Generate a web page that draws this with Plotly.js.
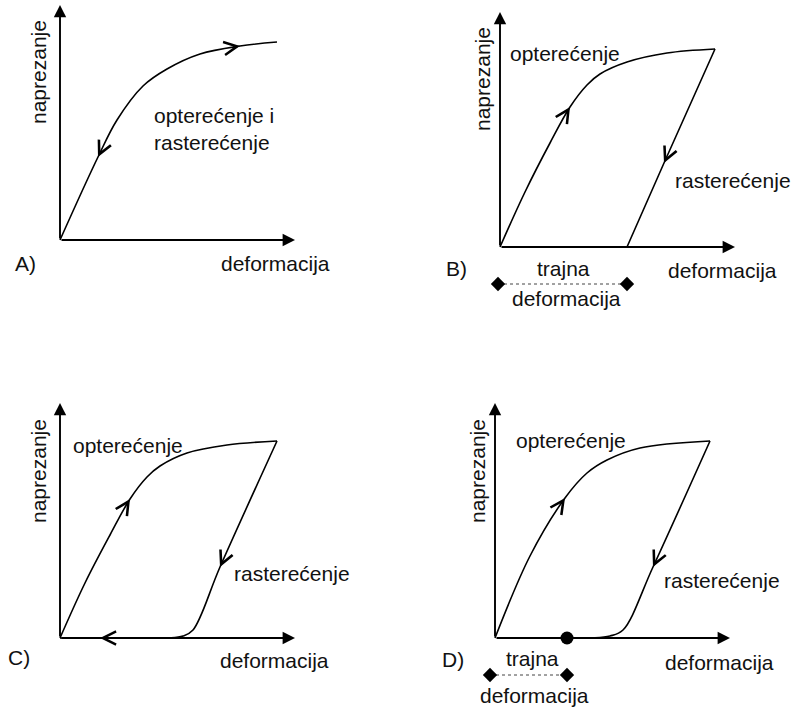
<!DOCTYPE html>
<html><head><meta charset="utf-8">
<script src="https://cdn.plot.ly/plotly-3.0.1.min.js"></script>
<style>html,body{margin:0;padding:0;background:#fff}#chart{width:793px;height:708px}</style>
</head><body><div id="chart"></div>
<script>
// ---- data (deformacija, naprezanje) in arbitrary units ----
// Panel A: loading and unloading along the same curve
const loadA_x = [0, 0.38, 0.57, 0.83, 1.07, 1.4, 1.8, 2.17];
const loadA_y = [0, 0.83, 1.2, 1.54, 1.71, 1.86, 1.94, 1.98];
// Panel B
const loadB_x = [0, 0.25, 0.5, 0.7, 0.87, 1.0, 1.27, 1.67, 2.15];
const loadB_y = [0, 0.55, 1.04, 1.4, 1.62, 1.73, 1.85, 1.94, 1.98];
const unloadB_x = [2.15, 1.64, 1.27];
const unloadB_y = [1.98, 0.84, 0];
const permB_x = [-0.02, 1.27];
// Panel C
const loadC_x = [0, 0.25, 0.5, 0.7, 0.87, 1.0, 1.27, 1.67, 2.17];
const loadC_y = [0, 0.55, 1.03, 1.39, 1.61, 1.72, 1.85, 1.93, 1.97];
const unloadC_x = [2.17, 1.6, 1.33, 1.23, 1.1, 0.93, 0.4, 0];
const unloadC_y = [1.97, 0.71, 0.08, 0.02, 0, 0, 0, 0];
// Panel D
const loadD_x = [0, 0.35, 0.7, 0.92, 1.12, 1.45, 2.15];
const loadD_y = [0, 0.82, 1.4, 1.65, 1.78, 1.9, 1.97];
const unloadD_x = [2.15, 1.58, 1.28, 1.15, 0.98, 0.72];
const unloadD_y = [1.97, 0.71, 0.08, 0.02, 0, 0];
const permD_x = [-0.05, 0.72];

// direction arrows: [curve number, point index, direction]
const panels = [
  {ax:'x',  ay:'y',  curves:[[loadA_x, loadA_y]], arrows:[[0,6,1],[0,1,-1]]},
  {ax:'x2', ay:'y2', curves:[[loadB_x, loadB_y],[unloadB_x, unloadB_y]], arrows:[[0,3,1],[1,1,1]]},
  {ax:'x3', ay:'y3', curves:[[loadC_x, loadC_y],[unloadC_x, unloadC_y]], arrows:[[0,3,1],[1,1,1],[1,6,1]]},
  {ax:'x4', ay:'y4', curves:[[loadD_x, loadD_y],[unloadD_x, unloadD_y]], arrows:[[0,2,1],[1,1,1]]}
];

const FONT = {family:'"Liberation Sans", Arial, sans-serif', size:21, color:'#111'};
const traces = [];
const annotations = [];

panels.forEach(p => {
  p.curves.forEach(c => {
    traces.push({x:c[0], y:c[1], xaxis:p.ax, yaxis:p.ay, mode:'lines',
      line:{color:'#000', width:1.6, shape:'spline', smoothing:1}, hoverinfo:'skip', showlegend:false});
  });
  // axis arrows
  const L = 2.35;
  annotations.push({xref:p.ax, yref:p.ay, axref:p.ax, ayref:p.ay, x:L, y:0, ax:0, ay:0, text:'',
    showarrow:true, arrowhead:2, arrowsize:1.3, arrowwidth:1.9, arrowcolor:'#000'});
  annotations.push({xref:p.ax, yref:p.ay, axref:p.ax, ayref:p.ay, x:0, y:L, ax:0, ay:0, text:'',
    showarrow:true, arrowhead:2, arrowsize:1.3, arrowwidth:1.9, arrowcolor:'#000'});
  // direction chevrons
  p.arrows.forEach(a => {
    const cx = p.curves[a[0]][0], cy = p.curves[a[0]][1], i = a[1], d = a[2];
    const i0 = Math.max(0, i-1), i1 = Math.min(cx.length-1, i+1);
    let dx = (cx[i1]-cx[i0])*d, dy = (cy[i1]-cy[i0])*d;
    const n = Math.hypot(dx, dy); dx/=n; dy/=n;
    annotations.push({xref:p.ax, yref:p.ay, x:cx[i], y:cy[i], ax:-dx*8, ay:dy*8, text:'',
      showarrow:true, arrowhead:5, arrowsize:2.0, arrowwidth:1.3, arrowcolor:'#000'});
  });
});

// permanent deformation markers
[[permB_x,'x2','y2'],[permD_x,'x4','y4']].forEach(q => {
  traces.push({x:q[0], y:[-0.37,-0.37], xaxis:q[1], yaxis:q[2], mode:'lines+markers', cliponaxis:false,
    line:{color:'#444', width:1, dash:'dot'}, marker:{symbol:'diamond', size:11, color:'#000'},
    hoverinfo:'skip', showlegend:false});
});
traces.push({x:[permD_x[1]], y:[0], xaxis:'x4', yaxis:'y4', mode:'markers', cliponaxis:false,
  marker:{size:13, color:'#000'}, hoverinfo:'skip', showlegend:false});

function T(ax, ay, x, y, text, extra) {
  annotations.push(Object.assign({xref:ax, yref:ay, x:x, y:y, text:text, showarrow:false, font:FONT,
    xanchor:'center', yanchor:'middle'}, extra||{}));
}
// Panel A
T('x','y',-0.22,1.68,'naprezanje',{textangle:-90});
T('x','y',2.15,-0.23,'deformacija');
T('x','y',-0.35,-0.23,'A)');
T('x','y',0.92,1.11,'opterećenje i<br>rasterećenje',{xanchor:'left', align:'left'});
// Panel B
T('x2','y2',-0.18,1.68,'naprezanje',{textangle:-90});
T('x2','y2',2.22,-0.23,'deformacija');
T('x2','y2',-0.44,-0.21,'B)');
T('x2','y2',0.65,1.94,'opterećenje');
T('x2','y2',2.33,0.67,'rasterećenje');
T('x2','y2',0.63,-0.21,'trajna');
T('x2','y2',0.66,-0.51,'deformacija');
// Panel C
T('x3','y3',-0.22,1.67,'naprezanje',{textangle:-90});
T('x3','y3',2.14,-0.22,'deformacija');
T('x3','y3',-0.41,-0.19,'C)');
T('x3','y3',0.68,1.93,'opterećenje');
T('x3','y3',2.32,0.65,'rasterećenje');
// Panel D
T('x4','y4',-0.18,1.67,'naprezanje',{textangle:-90});
T('x4','y4',2.24,-0.24,'deformacija');
T('x4','y4',-0.42,-0.21,'D)');
T('x4','y4',0.76,1.98,'opterećenje');
T('x4','y4',2.27,0.58,'rasterećenje');
T('x4','y4',0.375,-0.2,'trajna');
T('x4','y4',0.39,-0.57,'deformacija');

const ax = (dom, rng) => ({domain:dom, range:rng, visible:false, fixedrange:true});
const W = 793, H = 708;
const layout = {
  width:W, height:H, margin:{l:0,r:0,t:0,b:0}, paper_bgcolor:'#fff', plot_bgcolor:'rgba(0,0,0,0)',
  showlegend:false,
  xaxis:  ax([0, 396/W], [-0.60, 3.36]),
  yaxis:  ax([1-354/H, 1], [-1.14, 2.40]),
  xaxis2: ax([396/W, 1], [-1.04, 2.93]),
  yaxis2: ax([1-354/H, 1], [-1.07, 2.47]),
  xaxis3: ax([0, 396/W], [-0.60, 3.36]),
  yaxis3: ax([0, 1-354/H], [-0.70, 2.84]),
  xaxis4: ax([396/W, 1], [-0.99, 2.98]),
  yaxis4: ax([0, 1-354/H], [-0.70, 2.84]),
  annotations: annotations
};
Plotly.newPlot('chart', traces, layout, {displayModeBar:false, staticPlot:true});
</script></body></html>
